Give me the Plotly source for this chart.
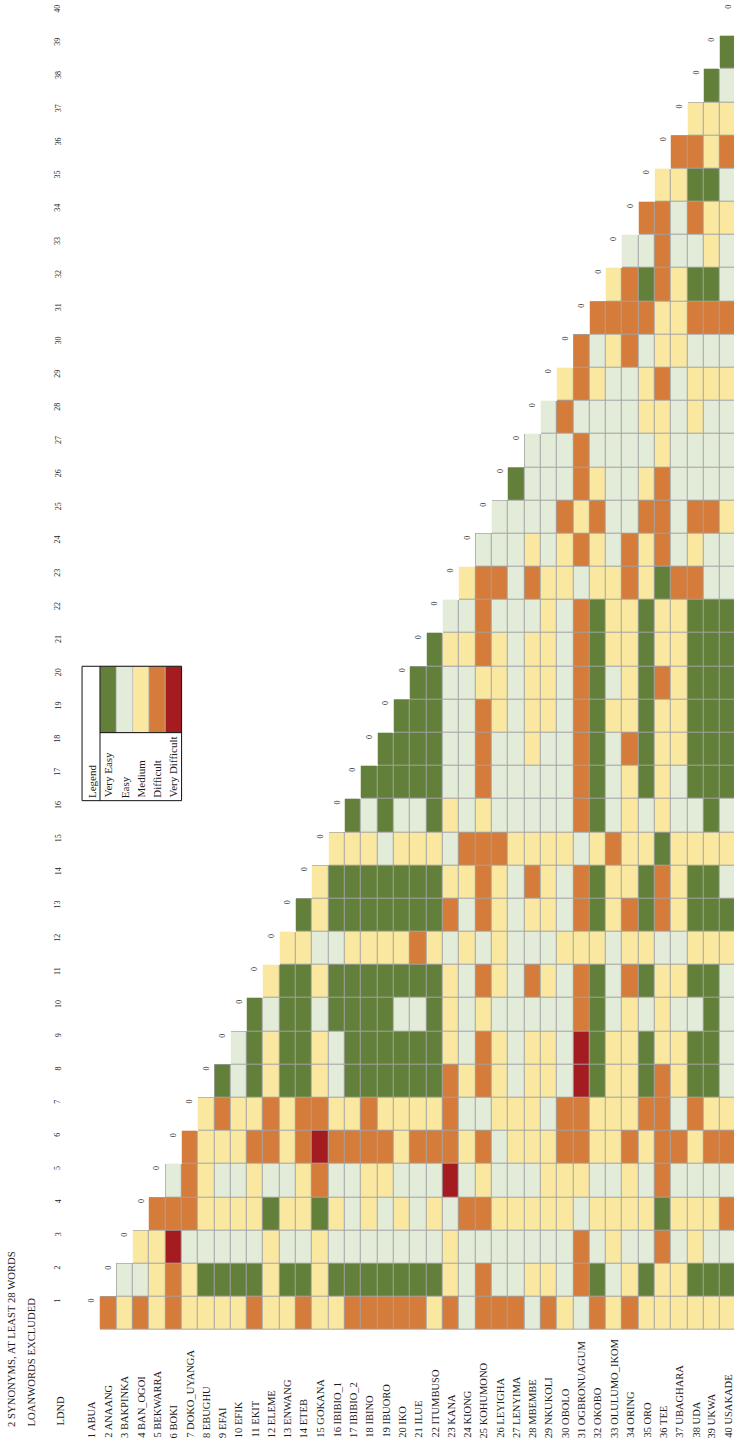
import plotly.graph_objects as go

# ---- data -------------------------------------------------------------
languages = [
    "ABUA", "ANAANG", "BAKPINKA", "BAN_OGOI", "BEKWARRA", "BOKI", "DOKO_UYANGA",
    "EBUGHU", "EFAI", "EFIK", "EKIT", "ELEME", "ENWANG", "ETEB", "GOKANA",
    "IBIBIO_1", "IBIBIO_2", "IBINO", "IBUORO", "IKO", "ILUE", "ITUMBUSO", "KANA",
    "KIONG", "KOHUMONO", "LEYIGHA", "LENYIMA", "MBEMBE", "NKUKOLI", "OBOLO",
    "OGBRONUAGUM", "OKOBO", "OLULUMO_IKOM", "ORING", "ORO", "TEE", "UBAGHARA",
    "UDA", "UKWA", "USAKADE",
]
column_labels = [str(k) for k in range(1, 41)]

level_names = ["Very Easy", "Easy", "Medium", "Difficult", "Very Difficult"]
level_colors = ["#63803a", "#e3ebd9", "#fbe8a0", "#d67c3a", "#a41c20"]

# difficulty class per language pair (1 = Very Easy ... 5 = Very Difficult)
# row i holds the pairs with languages 1 .. i-1
codes = [
    [],
    [4],
    [3, 2],
    [4, 2, 3],
    [3, 3, 3, 4],
    [4, 4, 5, 4, 2],
    [3, 3, 2, 4, 4, 4],
    [3, 1, 2, 3, 3, 3, 3],
    [3, 1, 2, 3, 2, 3, 4, 1],
    [3, 1, 2, 3, 2, 3, 3, 2, 2],
    [4, 1, 2, 3, 3, 4, 3, 1, 1, 1],
    [3, 3, 3, 1, 2, 4, 4, 3, 3, 2, 3],
    [3, 1, 2, 3, 2, 3, 3, 1, 1, 1, 1, 3],
    [4, 1, 2, 3, 3, 4, 4, 1, 1, 1, 1, 3, 1],
    [3, 3, 3, 1, 4, 5, 4, 3, 3, 2, 3, 2, 3, 3],
    [3, 1, 2, 3, 2, 4, 3, 2, 2, 1, 1, 2, 1, 1, 3],
    [4, 1, 2, 2, 2, 4, 3, 1, 1, 1, 1, 3, 1, 1, 3, 1],
    [4, 1, 2, 3, 3, 4, 4, 1, 1, 1, 1, 3, 1, 1, 3, 2, 1],
    [4, 1, 2, 2, 3, 4, 3, 1, 1, 1, 1, 3, 1, 1, 2, 1, 1, 1],
    [4, 1, 2, 3, 2, 3, 3, 1, 1, 2, 1, 3, 1, 1, 3, 2, 1, 1, 1],
    [4, 1, 2, 2, 2, 4, 3, 1, 1, 2, 1, 4, 1, 1, 3, 2, 1, 1, 1, 1],
    [3, 1, 2, 3, 2, 4, 3, 1, 1, 1, 1, 3, 1, 1, 3, 1, 1, 1, 1, 1, 1],
    [4, 3, 3, 2, 5, 4, 4, 4, 3, 3, 3, 2, 4, 3, 2, 3, 2, 2, 2, 2, 3, 2],
    [2, 2, 2, 4, 2, 3, 2, 3, 2, 2, 2, 3, 2, 3, 4, 2, 2, 2, 2, 2, 3, 2, 3],
    [4, 4, 2, 4, 3, 4, 2, 4, 4, 3, 4, 2, 4, 4, 4, 3, 4, 4, 4, 3, 4, 4, 4, 2],
    [4, 2, 2, 3, 2, 2, 3, 3, 3, 2, 3, 3, 3, 3, 4, 2, 2, 2, 3, 3, 3, 2, 4, 2, 2],
    [4, 2, 2, 3, 2, 3, 3, 2, 2, 2, 2, 2, 2, 2, 3, 2, 2, 2, 2, 2, 2, 2, 2, 2, 2, 1],
    [2, 3, 2, 3, 2, 3, 3, 3, 3, 2, 4, 2, 3, 4, 3, 2, 2, 3, 3, 3, 3, 2, 4, 3, 2, 2, 2],
    [4, 3, 2, 3, 3, 3, 2, 3, 3, 2, 3, 2, 3, 3, 3, 2, 2, 2, 3, 3, 3, 3, 3, 2, 2, 2, 2, 2],
    [3, 2, 2, 3, 3, 4, 4, 2, 2, 2, 2, 3, 2, 2, 3, 2, 2, 2, 2, 2, 2, 2, 3, 3, 4, 2, 2, 4, 3],
    [2, 4, 4, 2, 3, 4, 4, 5, 5, 4, 4, 3, 4, 4, 2, 4, 4, 4, 4, 4, 4, 4, 2, 4, 3, 4, 4, 2, 4, 4],
    [4, 1, 2, 3, 2, 3, 3, 1, 1, 1, 1, 3, 1, 1, 3, 1, 1, 1, 1, 1, 1, 1, 3, 3, 4, 3, 2, 2, 3, 2, 4],
    [3, 2, 3, 3, 2, 3, 3, 3, 3, 2, 2, 2, 3, 3, 4, 2, 2, 2, 3, 2, 3, 3, 3, 2, 2, 2, 2, 2, 2, 3, 4, 3],
    [4, 3, 2, 3, 3, 4, 3, 3, 3, 3, 4, 3, 4, 3, 3, 3, 3, 4, 3, 3, 3, 3, 4, 4, 2, 2, 2, 2, 2, 4, 4, 4, 2],
    [3, 1, 2, 3, 2, 3, 4, 1, 1, 2, 1, 3, 1, 1, 3, 2, 1, 1, 1, 1, 1, 1, 3, 3, 4, 3, 2, 3, 3, 2, 4, 1, 2, 4],
    [3, 3, 4, 1, 4, 4, 4, 4, 3, 3, 3, 2, 4, 4, 1, 3, 3, 3, 3, 4, 3, 3, 1, 4, 4, 4, 3, 3, 4, 3, 3, 4, 4, 4, 3],
    [3, 3, 2, 3, 2, 4, 2, 3, 3, 2, 3, 2, 3, 3, 3, 2, 2, 3, 3, 3, 3, 3, 4, 2, 2, 2, 2, 2, 2, 3, 3, 3, 2, 2, 3, 4],
    [3, 1, 3, 3, 2, 3, 4, 1, 1, 2, 1, 3, 1, 1, 3, 2, 1, 1, 1, 1, 1, 1, 4, 3, 4, 2, 2, 3, 3, 2, 4, 1, 2, 4, 1, 4, 3],
    [3, 1, 2, 3, 2, 4, 3, 1, 1, 1, 1, 3, 1, 1, 3, 1, 1, 1, 1, 1, 1, 1, 2, 2, 4, 2, 2, 2, 3, 2, 4, 1, 3, 3, 1, 3, 3, 1],
    [3, 1, 2, 4, 2, 4, 3, 2, 2, 2, 2, 3, 1, 2, 3, 2, 1, 1, 1, 1, 1, 1, 2, 2, 3, 2, 2, 2, 3, 2, 4, 2, 2, 3, 2, 4, 3, 2, 1],
]
diagonal_value = "0"

title_lines = ["2 SYNONYMS, AT LEAST 28 WORDS", "LOANWORDS EXCLUDED"]
corner_label = "LDND"
legend_title = "Legend"

# ---- geometry ---------------------------------------------------------
W, H = 734, 1452
X_RANGE = [-4.629, 40.355]   # languages run left to right
Y_RANGE = [-3.18, 40.58]     # comparison columns run bottom to top
FONT = "Liberation Serif"
INK = "#1b1b1b"
GRID = "#a3a3a3"

n = len(languages)
idx = list(range(1, n + 1))


def px_to_paper_x(p):
    return p / W


def px_to_paper_y(p):
    return 1 - p / H


def px_to_data_x(p):
    return X_RANGE[0] + p / W * (X_RANGE[1] - X_RANGE[0])


# z[col][row] for the lower triangle, empty elsewhere
z = [[None] * n for _ in range(n)]
under = [[None] * n for _ in range(n)]
for i, row in enumerate(codes):
    for j, v in enumerate(row):
        z[j][i] = v
        under[j][i] = 1

colorscale = []
for k, c in enumerate(level_colors):
    colorscale += [[k / len(level_colors), c], [(k + 1) / len(level_colors), c]]

fig = go.Figure()

# grey backing that shows through the gaps as cell borders
fig.add_trace(go.Heatmap(
    x=idx, y=idx, z=under,
    colorscale=[[0, GRID], [1, GRID]], zmin=0, zmax=1,
    showscale=False, hoverinfo="skip",
))
fig.add_trace(go.Heatmap(
    x=idx, y=idx, z=z,
    colorscale=colorscale, zmin=0.5, zmax=len(level_colors) + 0.5,
    xgap=1, ygap=1, showscale=False,
    hovertemplate="%{x} / %{y}: %{z}<extra></extra>",
))

annotations = []

# diagonal zeros
for i in idx:
    annotations.append(dict(
        x=i, y=i + 0.5, xref="x", yref="y", text=diagonal_value,
        textangle=-90, xanchor="center", yanchor="top", yshift=-2,
        showarrow=False, borderpad=0, borderwidth=0,
        font=dict(family=FONT, size=8, color=INK),
    ))

# column numbers on the left
col_x = px_to_data_x(58)
for j, lab in zip(idx, column_labels):
    annotations.append(dict(
        x=col_x, y=j + 0.5, xref="x", yref="y", text=lab,
        textangle=-90, xanchor="center", yanchor="top", yshift=-2,
        showarrow=False, borderpad=0, borderwidth=0,
        font=dict(family=FONT, size=8, color=INK),
    ))

# language names along the bottom
for i, name in zip(idx, languages):
    annotations.append(dict(
        x=i, y=px_to_paper_y(1438), xref="x", yref="paper",
        text=f"{i} {name}", textangle=-90, xanchor="center", yanchor="bottom",
        showarrow=False, borderpad=0, borderwidth=0,
        font=dict(family=FONT, size=10.5, color=INK),
    ))

annotations.append(dict(
    x=px_to_data_x(59.5), y=px_to_paper_y(1426), xref="x", yref="paper",
    text=corner_label, textangle=-90, xanchor="center", yanchor="bottom",
    showarrow=False, borderpad=0, borderwidth=0,
    font=dict(family=FONT, size=10.5, color=INK),
))

for px, line in zip([11, 30], title_lines):
    annotations.append(dict(
        x=px_to_paper_x(px), y=px_to_paper_y(1427), xref="paper", yref="paper",
        text=line, textangle=-90, xanchor="center", yanchor="bottom",
        showarrow=False, borderpad=0, borderwidth=0,
        font=dict(family=FONT, size=10.7, color=INK),
    ))

# ---- legend box (laid on the grid: rows 1-6, columns 17-20) ------------
shapes = []
for k, c in enumerate(level_colors):
    shapes.append(dict(
        type="rect", xref="x", yref="y",
        x0=k + 1.5, x1=k + 2.5, y0=18.5, y1=20.5,
        fillcolor=c, line=dict(color="#b5b5b5", width=0.6),
    ))
shapes.append(dict(type="rect", xref="x", yref="y", x0=0.4, x1=6.5, y0=16.45, y1=20.5,
                   line=dict(color="#111111", width=1)))
shapes.append(dict(type="line", xref="x", yref="y", x0=1.5, x1=1.5, y0=16.45, y1=20.5,
                   line=dict(color="#111111", width=1)))
shapes.append(dict(type="line", xref="x", yref="y", x0=1.5, x1=6.5, y0=18.5, y1=18.5,
                   line=dict(color="#111111", width=1)))

for k, label in enumerate([legend_title] + level_names):
    annotations.append(dict(
        x=k + 1, y=16.45, xref="x", yref="y", text=label,
        textangle=-90, xanchor="center", yanchor="bottom", yshift=3,
        showarrow=False, borderpad=0, borderwidth=0,
        font=dict(family=FONT, size=11, color=INK),
    ))

fig.update_layout(
    width=W, height=H,
    margin=dict(l=0, r=0, t=0, b=0),
    paper_bgcolor="white", plot_bgcolor="white",
    xaxis=dict(range=X_RANGE, visible=False, fixedrange=True),
    yaxis=dict(range=Y_RANGE, visible=False, fixedrange=True),
    annotations=annotations,
    shapes=shapes,
    showlegend=False,
)

fig.write_html("out.html")
